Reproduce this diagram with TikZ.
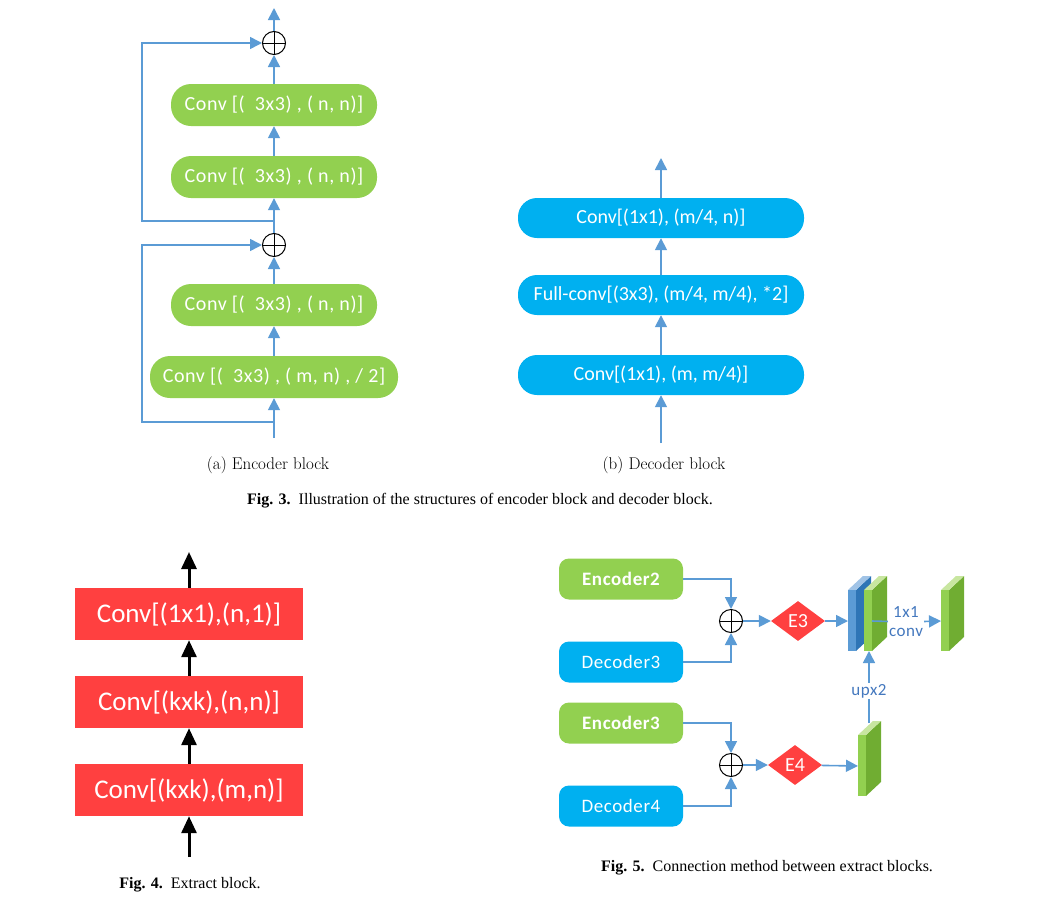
\documentclass[tikz,border=0pt]{standalone}
\usepackage{fontspec}
\newfontfamily\calfont{Carlito}
\newfontfamily\calspaced{Carlito}[LetterSpace=3]
\newfontfamily\capfont{Liberation Serif}
\usepackage{tikz}
\usetikzlibrary{positioning, arrows.meta, shapes.geometric}

\definecolor{encgreen}{RGB}{146,208,80}
\definecolor{sidegreen}{RGB}{112,173,50}
\definecolor{topgreen}{RGB}{200,230,160}
\definecolor{decblue}{RGB}{0,176,240}
\definecolor{extred}{RGB}{255,64,64}
\definecolor{flowblue}{RGB}{91,155,213}
\definecolor{sideblue}{RGB}{46,117,182}
\definecolor{topblue}{RGB}{160,195,230}
\definecolor{lblblue}{RGB}{68,120,190}

\tikzset{
    encbox/.style={rectangle, rounded corners=20pt, fill=encgreen, text=white,
        minimum width=206pt, minimum height=42pt, font=\calspaced\fontsize{20}{24}\selectfont},
    decbox/.style={rectangle, rounded corners=19pt, fill=decblue, text=white,
        minimum width=286pt, minimum height=40pt, font=\calfont\fontsize{20}{24}\selectfont},
    extbox/.style={rectangle, fill=extred, text=white,
        minimum width=228pt, minimum height=52pt, font=\calfont\fontsize{27}{32}\selectfont},
    fivebox/.style={rectangle, rounded corners=10pt, text=white,
        minimum width=124pt, minimum height=41pt, font=\calspaced\fontsize{19}{22}\selectfont},
    gate/.style={diamond, fill=extred, text=white, inner sep=0pt, aspect=1.35,
        minimum width=54pt, minimum height=40pt, font=\calfont\fontsize{20}{22}\selectfont},
    sumnode/.style={circle, draw=black, line width=1pt, fill=white, minimum size=23pt, inner sep=0pt,
        path picture={\draw[line width=1pt] (path picture bounding box.north) -- (path picture bounding box.south)
            (path picture bounding box.west) -- (path picture bounding box.east);}},
    flow/.style={draw=flowblue, line width=1.6pt, -{Triangle[width=12pt,length=12pt]}},
    blackflow/.style={draw=black, line width=3pt, -{Triangle[width=15pt,length=17pt]}},
    lbl/.style={text=lblblue, align=center, inner sep=1pt, font=\calspaced\fontsize{17}{19}\selectfont},
    subcap/.style={anchor=base, font=\fontsize{17}{20}\selectfont},
    figcap/.style={anchor=base, font=\capfont\fontsize{16}{19}\selectfont}
}

% feature map plate: x, y (front top left), name, front, side, top colour
\newcommand\fmap[6]{%
    \fill[#5] (#1+8,#2) -- ++(15,-14) -- ++(0,61) -- ++(-15,14) -- cycle;
    \fill[#6] (#1,#2) -- ++(15,-14) -- ++(8,0) -- ++(-15,14) -- cycle;
    \fill[#4] (#1,#2) rectangle ++(8,61);
    \coordinate (#3-w) at (#1,#2+31);
    \coordinate (#3-e) at (#1+8,#2+31);
    \coordinate (#3-b) at (#1+5,#2+61);
    \coordinate (#3-t) at (#1+11,#2-12);
}

\begin{document}
\begin{tikzpicture}[x=1pt, y=-1pt, on grid]
    \useasboundingbox (0,0) rectangle (1037,908);

    % (a) encoder block
    \node[encbox, minimum width=248pt] (enc1) at (274,377) {Conv [(\ \ 3x3) , ( m, n) , / 2]};
    \node[encbox] (enc2) [above=72pt of enc1] {Conv [(\ \ 3x3) , ( n, n)]};
    \node[sumnode] (add1) [above=60pt of enc2] {};
    \node[encbox] (enc3) [above=68pt of add1] {Conv [(\ \ 3x3) , ( n, n)]};
    \node[encbox] (enc4) [above=72pt of enc3] {Conv [(\ \ 3x3) , ( n, n)]};
    \node[sumnode] (add2) [above=62pt of enc4] {};
    \coordinate (encin) at (274,438);
    \coordinate (encout) at (274,8);
    \path (encin) ++(0,-16) coordinate (skip1);
    \path (add1) ++(0,-24) coordinate (skip2);

    \draw[flow] (encin) -- (enc1);
    \draw[flow] (enc1) -- (enc2);
    \draw[flow] (enc2) -- (add1);
    \draw[flow] (add1) -- (enc3);
    \draw[flow] (enc3) -- (enc4);
    \draw[flow] (enc4) -- (add2);
    \draw[flow] (add2) -- (encout);
    \draw[flow] (skip1) -- ++(-132,0) |- (add1);
    \draw[flow] (skip2) -- ++(-132,0) |- (add2);

    % (b) decoder block
    \node[decbox] (dec1) at (661,375) {Conv[(1x1), (m, m/4)]};
    \node[decbox] (dec2) [above=80pt of dec1] {Full-conv[(3x3), (m/4, m/4), *2]};
    \node[decbox] (dec3) [above=77pt of dec2] {Conv[(1x1), (m/4, n)]};
    \coordinate (decin) at (661,443);
    \coordinate (decout) at (661,158);

    \draw[flow] (decin) -- (dec1);
    \draw[flow] (dec1) -- (dec2);
    \draw[flow] (dec2) -- (dec3);
    \draw[flow] (dec3) -- (decout);

    \node[subcap] (capa) at (268,469) {(a) Encoder block};
    \node[subcap] (capb) at (664,469) {(b) Decoder block};
    \node[figcap] (cap3) at (480,504) {\textbf{Fig. 3.}\enspace Illustration of the structures of encoder block and decoder block.};

    % extract block
    \node[extbox] (ext1) at (189,790) {Conv[(kxk),(m,n)]};
    \node[extbox] (ext2) [above=88pt of ext1] {Conv[(kxk),(n,n)]};
    \node[extbox] (ext3) [above=88pt of ext2] {Conv[(1x1),(n,1)]};
    \coordinate (extin) at (189,857);
    \coordinate (extout) at (189,552);

    \draw[blackflow] (extin) -- (ext1);
    \draw[blackflow] (ext1) -- (ext2);
    \draw[blackflow] (ext2) -- (ext3);
    \draw[blackflow] (ext3) -- (extout);

    \node[figcap] (cap4) at (190,888) {\textbf{Fig. 4.}\enspace Extract block.};

    % connection between extract blocks
    \node[fivebox, fill=encgreen] (e2) at (621,579) {\bfseries Encoder2};
    \node[fivebox, fill=decblue] (d3) at (621,662) {Decoder3};
    \node[fivebox, fill=encgreen] (e3) at (621,723) {\bfseries Encoder3};
    \node[fivebox, fill=decblue] (d4) at (621,806) {Decoder4};
    \node[sumnode] (s1) at (731,621) {};
    \node[sumnode] (s2) at (731,765) {};
    \node[gate] (g3) at (798,621) {E3};
    \node[gate] (g4) at (795,765) {E4};

    \fmap{848}{590}{mapb}{flowblue}{sideblue}{topblue}
    \fmap{864}{590}{mapg}{encgreen}{sidegreen}{topgreen}
    \fmap{941}{590}{mapo}{encgreen}{sidegreen}{topgreen}
    \fmap{858}{735}{mapl}{encgreen}{sidegreen}{topgreen}

    \node[lbl] (conv) at (906,622) {1x1\\conv};
    \node[lbl] (up) at (869,691) {upx2};

    \draw[flow] (e2) -| (s1);
    \draw[flow] (d3) -| (s1);
    \draw[flow] (e3) -| (s2);
    \draw[flow] (d4) -| (s2);
    \draw[flow] (s1) -- (g3);
    \draw[flow] (s2) -- (g4);
    \draw[flow] (g3) -- (mapb-w);
    \draw[flow] (g4) -- (mapl-w);
    \draw[flow] (mapg-e) -- (conv) -- (mapo-w);
    \draw[flow] (mapl-t) -- (up) -- (mapg-b);

    \node[figcap] (cap5) at (767,871) {\textbf{Fig. 5.}\enspace Connection method between extract blocks.};
\end{tikzpicture}
\end{document}
